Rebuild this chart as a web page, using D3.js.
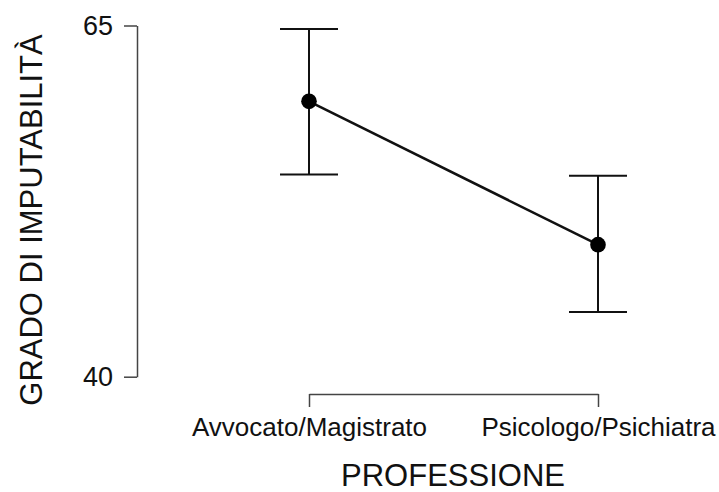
<!DOCTYPE html>
<html>
<head>
<meta charset="utf-8">
<script src="https://cdn.jsdelivr.net/npm/d3@7"></script>
<style>
  body { margin: 0; background: #fff; }
  svg { display: block; font-family: "Liberation Sans", Arial, sans-serif; }
</style>
</head>
<body>
<svg width="719" height="492"></svg>
<script>
const categories = ["Avvocato/Magistrato", "Psicologo/Psichiatra"];
const means = [59.6, 49.4];
const upper = [64.75, 54.3];
const lower = [54.4, 44.6];
const yTicks = [40, 65];

const svg = d3.select("svg");

const x = d3.scalePoint().domain(categories).range([309, 598]);
const y = d3.scaleLinear().domain([40, 65]).range([376.7, 25.5]);

const data = categories.map((c, i) => ({ cat: c, mean: means[i], hi: upper[i], lo: lower[i] }));

// y axis
const yAxis = svg.append("g")
  .attr("transform", "translate(137,0)")
  .call(d3.axisLeft(y).tickValues(yTicks).tickSize(13).tickSizeOuter(0).tickPadding(11));
yAxis.select(".domain").attr("stroke", "#444").attr("stroke-width", 1.5);
yAxis.selectAll(".tick line").attr("stroke", "#444").attr("stroke-width", 1.5);
yAxis.selectAll(".tick text").attr("font-size", 27).attr("fill", "#111")
  .attr("font-family", "Liberation Sans, Arial, sans-serif");

// x axis
const xAxis = svg.append("g")
  .attr("transform", "translate(0,394)")
  .call(d3.axisBottom(x).tickSize(13).tickSizeOuter(0).tickPadding(11));
xAxis.select(".domain").attr("stroke", "#444").attr("stroke-width", 1.5);
xAxis.selectAll(".tick line").attr("stroke", "#444").attr("stroke-width", 1.5);
xAxis.selectAll(".tick text").attr("font-size", 26).attr("fill", "#111")
  .attr("font-family", "Liberation Sans, Arial, sans-serif");

// error bars
const capW = 29;
const eb = svg.append("g").attr("stroke", "#111").attr("stroke-width", 2);
eb.selectAll(".stem").data(data).enter().append("line")
  .attr("x1", d => x(d.cat)).attr("x2", d => x(d.cat))
  .attr("y1", d => y(d.hi)).attr("y2", d => y(d.lo));
eb.selectAll(".capTop").data(data).enter().append("line")
  .attr("x1", d => x(d.cat) - capW).attr("x2", d => x(d.cat) + capW)
  .attr("y1", d => y(d.hi)).attr("y2", d => y(d.hi));
eb.selectAll(".capBot").data(data).enter().append("line")
  .attr("x1", d => x(d.cat) - capW).attr("x2", d => x(d.cat) + capW)
  .attr("y1", d => y(d.lo)).attr("y2", d => y(d.lo));

// connecting line
svg.append("path")
  .datum(data)
  .attr("fill", "none")
  .attr("stroke", "#111")
  .attr("stroke-width", 2.5)
  .attr("d", d3.line().x(d => x(d.cat)).y(d => y(d.mean)));

// points
svg.selectAll(".pt").data(data).enter().append("circle")
  .attr("cx", d => x(d.cat))
  .attr("cy", d => y(d.mean))
  .attr("r", 7.8)
  .attr("fill", "#000");

// axis titles
svg.append("text")
  .attr("x", 453)
  .attr("y", 486)
  .attr("text-anchor", "middle")
  .attr("font-size", 31)
  .attr("fill", "#111")
  .text("PROFESSIONE");

svg.append("text")
  .attr("transform", "translate(42,220) rotate(-90)")
  .attr("text-anchor", "middle")
  .attr("font-size", 31)
  .attr("fill", "#111")
  .text("GRADO DI IMPUTABILITÀ");
</script>
</body>
</html>
